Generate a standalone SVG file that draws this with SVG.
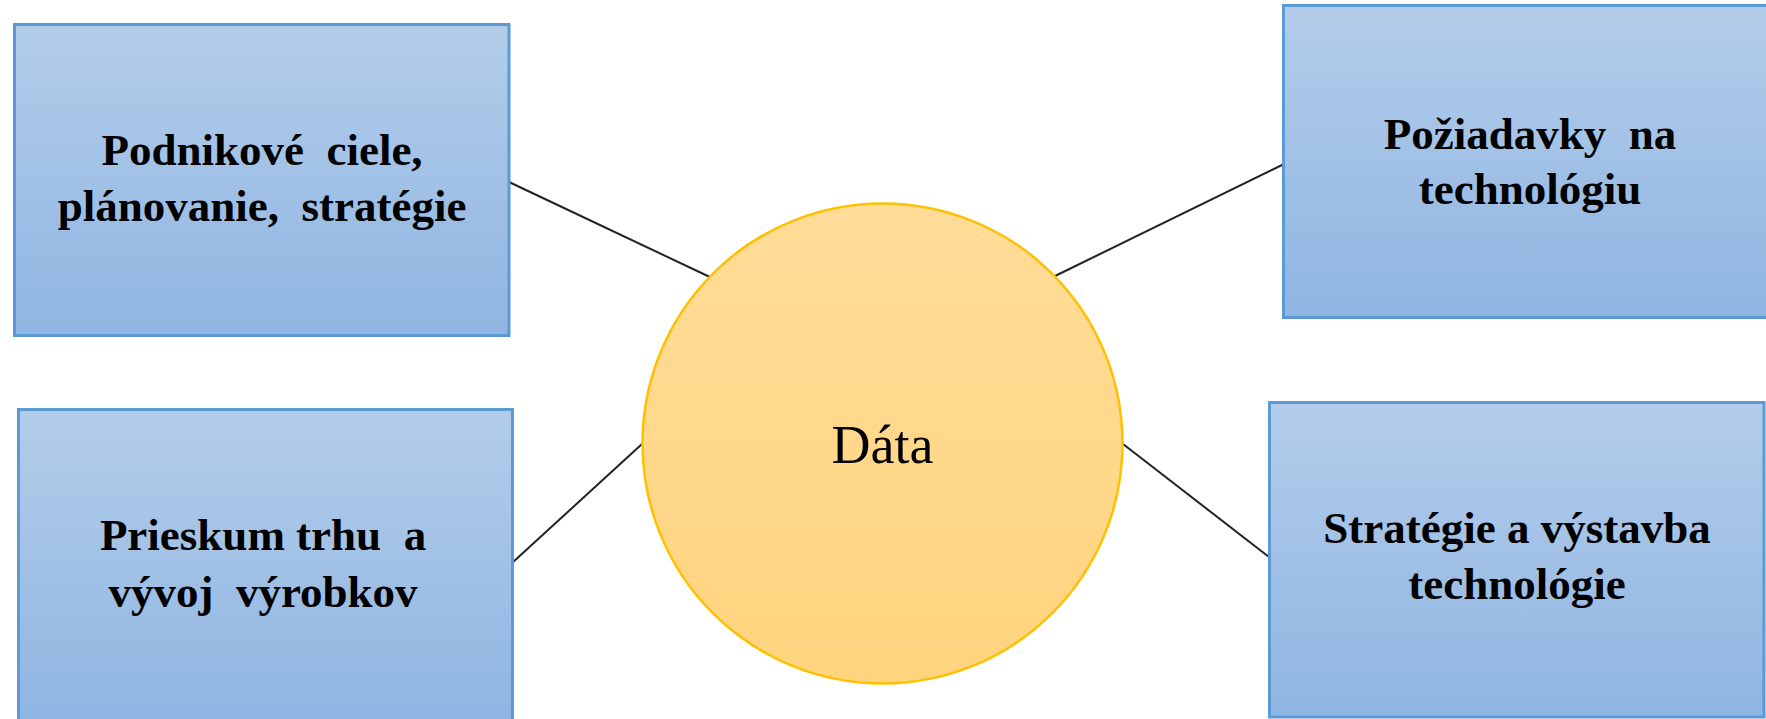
<svg xmlns="http://www.w3.org/2000/svg" width="1766" height="719" viewBox="0 0 1766 719">
  <defs>
    <linearGradient id="boxFill" x1="0" y1="0" x2="0" y2="1">
      <stop offset="0" stop-color="#B3CDEA"/>
      <stop offset="1" stop-color="#8FB5E2"/>
    </linearGradient>
    <linearGradient id="circFill" x1="0" y1="0" x2="0" y2="1">
      <stop offset="0" stop-color="#FFDC98"/>
      <stop offset="1" stop-color="#FFD47E"/>
    </linearGradient>
  </defs>
  <style>
    .box { fill: url(#boxFill); stroke: #5B9BD5; stroke-width: 3; }
    .circ { fill: url(#circFill); stroke: #FFC000; stroke-width: 2.5; }
    .lbl { font-family: "Liberation Serif", "Times New Roman", serif; font-weight: bold; font-size: 45px; fill: #000; text-anchor: middle; white-space: pre; }
    .center { font-family: "Liberation Serif", "Times New Roman", serif; font-size: 54px; fill: #000; text-anchor: middle; }
    .conn { stroke: #222; stroke-width: 2; fill: none; }
  </style>
  <rect width="1766" height="719" fill="#FFFFFF"/>
  <g id="connectors">
    <line class="conn" x1="509" y1="182" x2="712" y2="278"/>
    <line class="conn" x1="1284" y1="164" x2="1053" y2="277"/>
    <line class="conn" x1="512" y1="563" x2="642" y2="444"/>
    <line class="conn" x1="1123" y1="444" x2="1269" y2="557"/>
  </g>
  <g id="node-podnikove">
    <rect class="box" x="14.5" y="24.5" width="494.5" height="311"/>
    <text class="lbl" xml:space="preserve" x="262" y="165">Podnikové  ciele,</text>
    <text class="lbl" xml:space="preserve" x="262" y="221">plánovanie,  stratégie</text>
  </g>
  <g id="node-poziadavky">
    <rect class="box" x="1283.5" y="5.5" width="500" height="312"/>
    <text class="lbl" xml:space="preserve" x="1530" y="149">Požiadavky  na</text>
    <text class="lbl" x="1530" y="204">technológiu</text>
  </g>
  <g id="node-prieskum">
    <rect class="box" x="18.5" y="409.5" width="494" height="312"/>
    <text class="lbl" xml:space="preserve" x="263" y="550">Prieskum trhu  a</text>
    <text class="lbl" xml:space="preserve" x="263" y="607">vývoj  výrobkov</text>
  </g>
  <g id="node-strategie">
    <rect class="box" x="1269.5" y="402.5" width="494.5" height="314.5"/>
    <text class="lbl" x="1517" y="543">Stratégie a výstavba</text>
    <text class="lbl" x="1517" y="599">technológie</text>
  </g>
  <g id="node-data">
    <circle class="circ" cx="882.5" cy="443.5" r="240"/>
    <text class="center" x="882.5" y="463">Dáta</text>
  </g>
</svg>
